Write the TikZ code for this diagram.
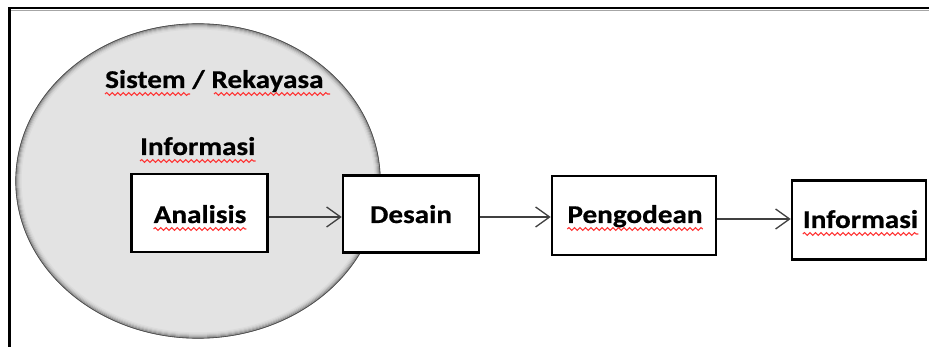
\documentclass[tikz,border=0pt]{standalone}
\usepackage{fontspec}
\setmainfont{Carlito}[FakeStretch=1.14,BoldFeatures={FakeBold=0.6}]
\usetikzlibrary{arrows.meta,decorations.pathmorphing}
\begin{document}
\begin{tikzpicture}[x=1pt,y=-1pt,
  boxnode/.style={draw=black,line width=2.6pt,fill=white,inner sep=0pt,line join=miter},
  lbl/.style={inner sep=0pt,font=\fontsize{25.6}{30}\selectfont\bfseries,text=black},
  arr/.style={draw=black!75,line width=1.3pt,-{Straight Barb[length=14pt,width=20pt,line width=1.3pt]}},
  squig/.style={draw=red!80!white,line width=1.1pt,decorate,decoration={snake,segment length=5.5pt,amplitude=1.4pt}}
]
\useasboundingbox (0,0) rectangle (929,347);
% frame
\draw[line width=2.6pt,line join=miter] (9.7,347) -- (9.7,8) -- (929,8);
\draw[black!35,line width=0.8pt] (11,10.3) -- (929,10.3);
% ellipse
\fill[black!11] (198,181) ellipse [x radius=182, y radius=157];
\foreach \i/\c in {0/55,1/42,2/32,3/24,4/18,5/14}{
  \draw[black!\c,line width=1.1pt] (198,181) ellipse [x radius=182-\i, y radius=157-\i];
}
\draw[black!70,line width=0.6pt] (198,181) ellipse [x radius=182.3, y radius=157.3];
% texts in ellipse
\node[lbl,anchor=base west] (t1) at (105,88) {Sistem / Rekayasa};
\node[lbl,anchor=base west] (t2) at (140,155) {Informasi};
% boxes
\node[boxnode,minimum width=136pt,minimum height=78pt] (A) at (199.5,213) {};
\node[boxnode,minimum width=136pt,minimum height=77.5pt] (D) at (411,214) {};
\node[boxnode,minimum width=164pt,minimum height=79pt] (P) at (634,215.5) {};
\node[boxnode,minimum width=134pt,minimum height=78.5pt] (I) at (859,220) {};
\node[lbl,anchor=base] (tA) at (200,223) {Analisis};
\node[lbl,anchor=base] (tD) at (411,223) {Desain};
\node[lbl,anchor=base] (tP) at (635,223) {Pengodean};
\node[lbl,anchor=base] (tI) at (860.5,228) {Informasi};
% spell-check squiggles
\draw[squig] (105,94) -- (190,94);
\draw[squig] (214,94) -- (330,94);
\draw[squig] ([yshift=-6pt]t2.base west) -- ([yshift=-6pt]t2.base east);
\draw[squig] ([yshift=-6pt]tA.base west) -- ([yshift=-6pt]tA.base east);
\draw[squig] ([yshift=-6pt]tP.base west) -- ([yshift=-6pt]tP.base east);
\draw[squig] ([yshift=-6pt]tI.base west) -- ([yshift=-6pt]tI.base east);
% connectors
\coordinate (a1) at ([yshift=-4pt]A.east);
\coordinate (a2) at ([yshift=-3pt]D.east);
\coordinate (a3) at ([yshift=-3.5pt]P.east);
\draw[arr] (a1) -- (a1 -| D.west);
\draw[arr] (a2) -- (a2 -| P.west);
\draw[arr] (a3) -- (a3 -| I.west);
\end{tikzpicture}
\end{document}
